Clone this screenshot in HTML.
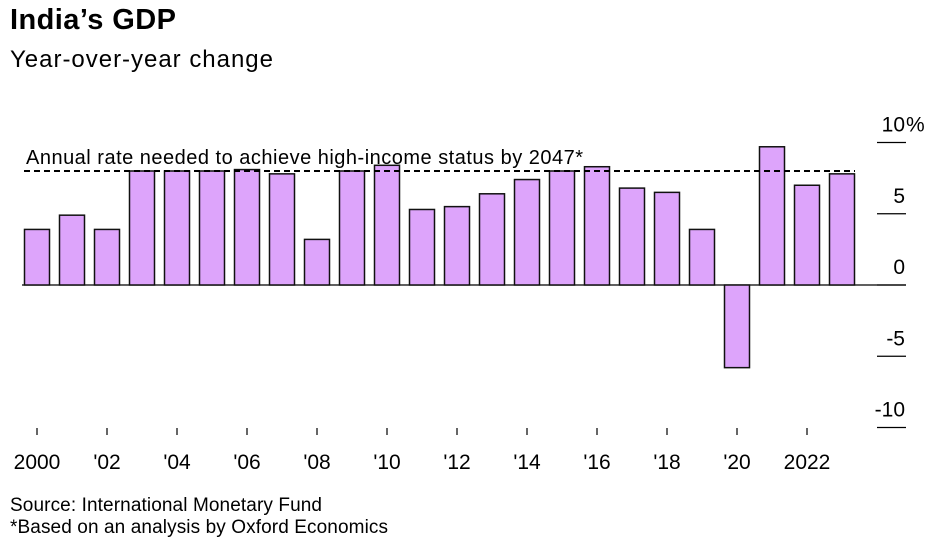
<!DOCTYPE html>
<html><head><meta charset="utf-8"><style>
body{margin:0;background:#fff;font-family:"Liberation Sans",sans-serif;}
svg{display:block}
</style></head><body>
<svg width="936" height="545">
<text x="10" y="29" font-size="29" font-weight="bold" fill="#000" textLength="166">India’s GDP</text>
<text x="10" y="67" font-size="24" fill="#000" textLength="263">Year-over-year change</text>
<g id="axis"></g>
<g id="bars"></g>
<text x="10" y="511" font-size="19" fill="#000" textLength="312">Source: International Monetary Fund</text>
<text x="10" y="533" font-size="19" fill="#000" textLength="378">*Based on an analysis by Oxford Economics</text>
</svg>
<script>
const years=[2000,2001,2002,2003,2004,2005,2006,2007,2008,2009,2010,2011,2012,2013,2014,2015,2016,2017,2018,2019,2020,2021,2022,2023];
const growth=[3.9,4.9,3.9,8.0,8.0,8.0,8.1,7.8,3.2,8.0,8.4,5.3,5.5,6.4,7.4,8.0,8.3,6.8,6.5,3.9,-5.8,9.7,7.0,7.8];
const yTicks=[10,5,0,-5,-10];
const yTickLabels=["10","5","0","-5","-10"];
const xLabelYears=[2000,2002,2004,2006,2008,2010,2012,2014,2016,2018,2020,2022];
const xLabels=["2000","'02","'04","'06","'08","'10","'12","'14","'16","'18","'20","2022"];
const targetRate=8.0;
const NS="http://www.w3.org/2000/svg";
const y=v=>285-v*14.25;
const x=yr=>37+(yr-2000)*35;
const ax=document.getElementById('axis'),bg=document.getElementById('bars');
function mk(tag,attrs,parent){const e=document.createElementNS(NS,tag);for(const k in attrs)e.setAttribute(k,attrs[k]);parent.appendChild(e);return e;}
yTicks.forEach((t,i)=>{
 const l=mk('line',{x1:877,x2:906,y1:y(t),y2:y(t),stroke:'#000','stroke-width':1.3},ax);
 
 
 const tx=mk('text',{x:905,y:y(t)-11,'font-size':21,'text-anchor':'end',fill:'#000'},ax);
 tx.textContent=yTickLabels[i];
 
 
 if(i===0){
  const p=mk('text',{x:906,y:y(t)-11,'font-size':21,fill:'#000'},ax);
  p.textContent='%';
  
  
 }
});
years.forEach((yr,i)=>{
 const v=growth[i];
 const r=mk('rect',{x:x(yr)-12.5,y:Math.min(y(v),y(0)),width:25,height:Math.abs(y(v)-y(0)),fill:'#dda4fb',stroke:'#111','stroke-width':1.5},bg);
 
 
});
const z=mk('line',{x1:22,x2:906,y1:y(0),y2:y(0),stroke:'#000','stroke-width':1.2},ax);


const d=mk('line',{x1:24,x2:855,y1:y(targetRate),y2:y(targetRate),stroke:'#000','stroke-width':2,'stroke-dasharray':'6,4'},bg);


const dl=mk('text',{x:26,y:y(targetRate)-7,'font-size':20,fill:'#000',textLength:557},bg);
dl.textContent='Annual rate needed to achieve high-income status by 2047*';


xLabelYears.forEach((yr,i)=>{
 const t=mk('line',{x1:x(yr),x2:x(yr),y1:428,y2:435,stroke:'#000','stroke-width':1.2},ax);
 
 
 const tx=mk('text',{x:x(yr),y:469,'font-size':21,'text-anchor':'middle',fill:'#000'},ax);
 tx.textContent=xLabels[i];
 
 
});
</script>
</body></html>
